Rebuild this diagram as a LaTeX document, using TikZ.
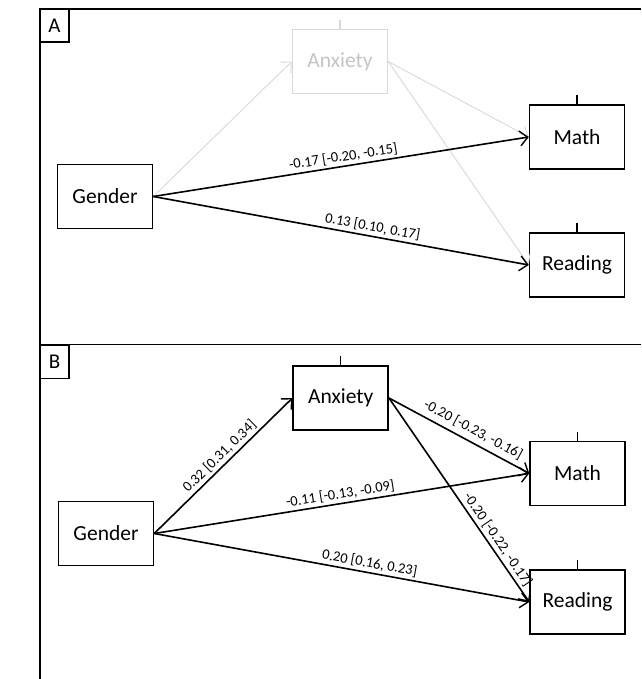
\documentclass[tikz,border=0pt]{standalone}
\usepackage{fontspec}
\setmainfont{Carlito}
\usetikzlibrary{arrows.meta}
\definecolor{fadeline}{HTML}{D8D8D8}
\definecolor{fadetext}{HTML}{C4C4C4}
\tikzset{
  var/.style={draw, line width=1.5pt, minimum width=95pt, minimum height=64pt, inner sep=0pt, font=\fontsize{21.5}{24}\selectfont},
  fadevar/.style={var, draw=fadeline, text=fadetext},
  path/.style={line width=1.6pt, -{Straight Barb[length=8pt,width=15pt,line width=1.4pt]}},
  fadepath/.style={line width=0.9pt, draw=fadeline, -{Straight Barb[length=8pt,width=15pt,line width=0.9pt]}},
  coef/.style={sloped, above=1pt, inner sep=1.5pt, font=\fontsize{14.5}{16}\selectfont},
  tick/.style={line width=1.2pt},
  frame/.style={line width=1.3pt},
  panel/.style={draw, line width=1.2pt, minimum width=29pt, minimum height=33pt, inner sep=0pt, font=\fontsize{21}{24}\selectfont}
}
\begin{document}
\begin{tikzpicture}[x=1pt,y=-1pt]
\useasboundingbox (0,0) rectangle (641,679);
% frames
\coordinate (ftl) at (40,9);
\coordinate (ftr) at (641,9);
\coordinate (fbl) at (40,679);
\coordinate (fml) at (40,344.5);
\coordinate (fmr) at (641,344.5);
\draw[frame] (ftr) -- (ftl) -- (fbl);
\draw[frame] (fml) -- (fmr);
\node[panel] (pA) at (54.5,25.5) {A};
\node[panel] (pB) at (54.5,362) {B};
% panel A
\node[var] (ga) at (105,196.5) {Gender};
\node[fadevar] (xa) at (340,61.5) {Anxiety};
\node[var] (ma) at (577,137) {Math};
\node[var] (ra) at (577,265) {Reading};
\draw[tick, draw=fadeline] (xa.north) -- ([yshift=9pt]xa.north);
\draw[tick] (ma.north) -- ([yshift=9pt]ma.north);
\draw[tick] (ra.north) -- ([yshift=9pt]ra.north);
\draw[fadepath] (ga.east) -- (xa.west);
\draw[fadepath] (xa.east) -- (ma.west);
\draw[fadepath] (xa.east) -- (ra.west);
\draw[path] (ga.east) -- node[coef, pos=0.51] {-0.17 [-0.20, -0.15]} (ma.west);
\draw[path] (ga.east) -- node[coef, pos=0.58] {0.13 [0.10, 0.17]} (ra.west);
% panel B
\node[var] (gb) at (106,533.5) {Gender};
\node[var] (xb) at (340.7,398) {Anxiety};
\node[var] (mb) at (577.5,473.4) {Math};
\node[var] (rb) at (577.5,602) {Reading};
\draw[tick] (xb.north) -- ([yshift=9pt]xb.north);
\draw[tick] (mb.north) -- ([yshift=9pt]mb.north);
\draw[tick] (rb.north) -- ([yshift=9pt]rb.north);
\draw[path] (gb.east) -- node[coef, pos=0.52] {0.32 [0.31, 0.34]} (xb.west);
\draw[path] (gb.east) -- node[coef, pos=0.5] {-0.11 [-0.13, -0.09]} (mb.west);
\draw[path] (gb.east) -- node[coef, pos=0.57] {0.20 [0.16, 0.23]} (rb.west);
\draw[path] (xb.east) -- node[coef, pos=0.56, above=2.5pt] {-0.20 [-0.23, -0.16]} (mb.west);
\draw[path] (xb.east) -- node[coef, pos=0.72] {-0.20 [-0.22, -0.17]} (rb.west);
\end{tikzpicture}
\end{document}
